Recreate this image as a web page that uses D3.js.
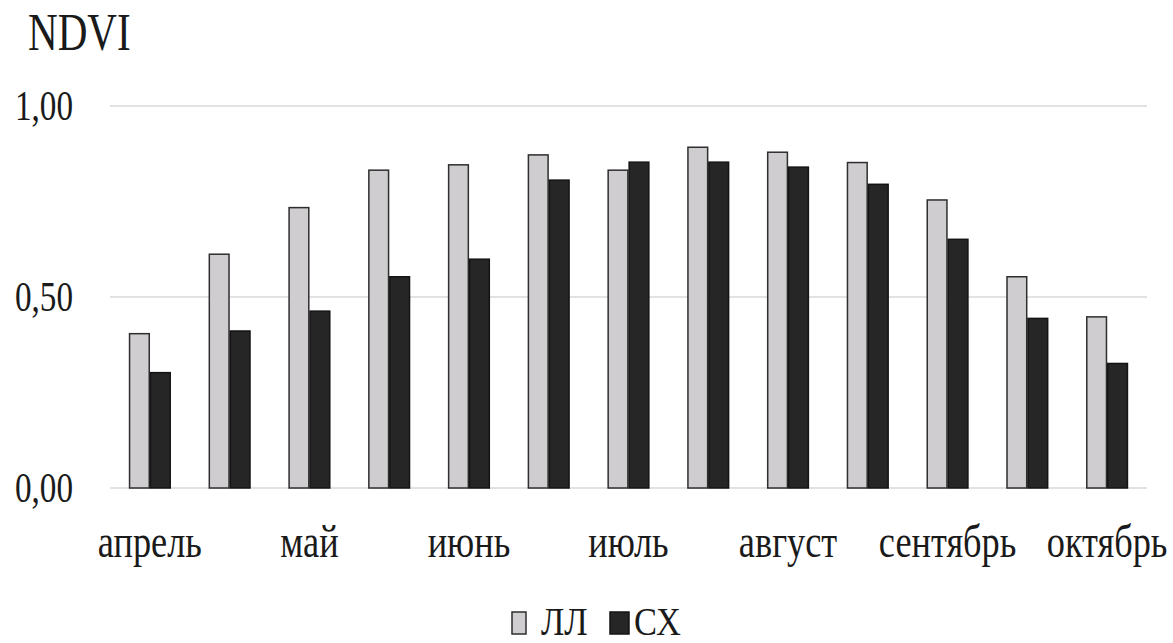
<!DOCTYPE html>
<html>
<head>
<meta charset="utf-8">
<script src="https://cdn.jsdelivr.net/npm/d3@7"></script>
<style>
  html, body { margin: 0; padding: 0; background: #fff; }
  svg { display: block; }
  svg text { font-family: "Times New Roman", "Liberation Serif", Times, serif; fill: #1a1a1a; }
</style>
</head>
<body>
<svg id="chart" width="1173" height="643"></svg>
<script>
// ---- data ----
const categories = ["апрель", "апрель-2", "май", "май-2", "июнь", "июнь-2", "июль", "июль-2", "август", "август-2", "сентябрь", "сентябрь-2", "октябрь"];
const tickLabels = ["апрель", "", "май", "", "июнь", "", "июль", "", "август", "", "сентябрь", "", "октябрь"];
const seriesNames = ["ЛЛ", "СХ"];
const valuesLL = [0.404, 0.612, 0.734, 0.832, 0.846, 0.872, 0.832, 0.892, 0.879, 0.852, 0.754, 0.553, 0.448];
const valuesSX = [0.302, 0.411, 0.463, 0.553, 0.599, 0.806, 0.853, 0.853, 0.840, 0.795, 0.651, 0.444, 0.326];
const yTicks = [0, 0.5, 1.0];
const yTitle = "NDVI";

// ---- layout ----
const svg = d3.select("#chart");
const plotLeft = 110, plotRight = 1147, plotTop = 106, plotBottom = 488;
const SX = 0.79; // horizontal condensation of the text
const FONT = '"Times New Roman", "Liberation Serif", Times, serif';

const x0 = d3.scaleBand().domain(d3.range(categories.length)).range([plotLeft, plotRight])
  .paddingInner(0.49).paddingOuter(0.245);
const x1 = d3.scaleBand().domain(seriesNames).range([0, x0.bandwidth()]).paddingInner(0.06);
const y = d3.scaleLinear().domain([0, 1]).range([plotBottom, plotTop]);
const colors = { "ЛЛ": "#cfcdcf", "СХ": "#262626" };
const strokes = { "ЛЛ": "#2e2e2e", "СХ": "#141414" };

// gridlines
svg.append("g").selectAll("line").data(yTicks).join("line")
  .attr("x1", plotLeft).attr("x2", plotRight)
  .attr("y1", d => y(d)).attr("y2", d => y(d))
  .attr("stroke", "#d9d9d9").attr("stroke-width", 1.6);

// bars
const rows = categories.map((c, i) => ({ i, vals: [
  { s: "ЛЛ", v: valuesLL[i] }, { s: "СХ", v: valuesSX[i] } ] }));
svg.append("g").selectAll("g").data(rows).join("g")
  .attr("transform", d => `translate(${x0(d.i)},0)`)
  .selectAll("rect").data(d => d.vals).join("rect")
  .attr("x", d => x1(d.s))
  .attr("y", d => y(d.v))
  .attr("width", x1.bandwidth())
  .attr("height", d => y(0) - y(d.v))
  .attr("fill", d => colors[d.s])
  .attr("stroke", d => strokes[d.s])
  .attr("stroke-width", 1.5);

// y axis
const fmt = d => d3.format(".2f")(d).replace(".", ",");
const yAxis = svg.append("g").attr("transform", `translate(${plotLeft},0)`)
  .call(d3.axisLeft(y).tickValues(yTicks).tickFormat(fmt).tickSize(0).tickPadding(0));
yAxis.attr("font-family", null).attr("font-size", null);
yAxis.select(".domain").remove();
yAxis.selectAll("text")
  .attr("x", -37 / SX).attr("dy", "0.33em")
  .attr("transform", `scale(${SX},1)`)
  .style("font-size", "42px").style("font-family", FONT).style("fill", "#1a1a1a");

// x axis
const xAxis = svg.append("g").attr("transform", `translate(0,${plotBottom})`)
  .call(d3.axisBottom(x0).tickFormat(i => tickLabels[i]).tickSize(0).tickPadding(0));
xAxis.attr("font-family", null).attr("font-size", null);
xAxis.select(".domain").remove();
xAxis.selectAll("text")
  .attr("y", 69).attr("dy", 0).attr("x", 0)
  .attr("transform", `scale(${SX},1)`)
  .style("font-size", "46px").style("font-family", FONT).style("fill", "#1a1a1a");

// title
svg.append("text")
  .attr("transform", `translate(28,50) scale(${SX},1)`)
  .style("font-size", "52px").style("font-family", FONT)
  .text(yTitle);

// legend
const legend = [
  { s: "ЛЛ", rx: 512, rw: 14, tx: 541 },
  { s: "СХ", rx: 610, rw: 19, tx: 634 }
];
const lg = svg.append("g");
lg.selectAll("rect").data(legend).join("rect")
  .attr("x", d => d.rx).attr("y", 612).attr("width", d => d.rw).attr("height", 22)
  .attr("fill", d => colors[d.s]).attr("stroke", d => strokes[d.s]).attr("stroke-width", 1.5);
lg.selectAll("text").data(legend).join("text")
  .attr("transform", d => `translate(${d.tx},635) scale(0.84,1)`)
  .style("font-size", "41px").style("font-family", FONT)
  .text(d => d.s);
</script>
</body>
</html>
